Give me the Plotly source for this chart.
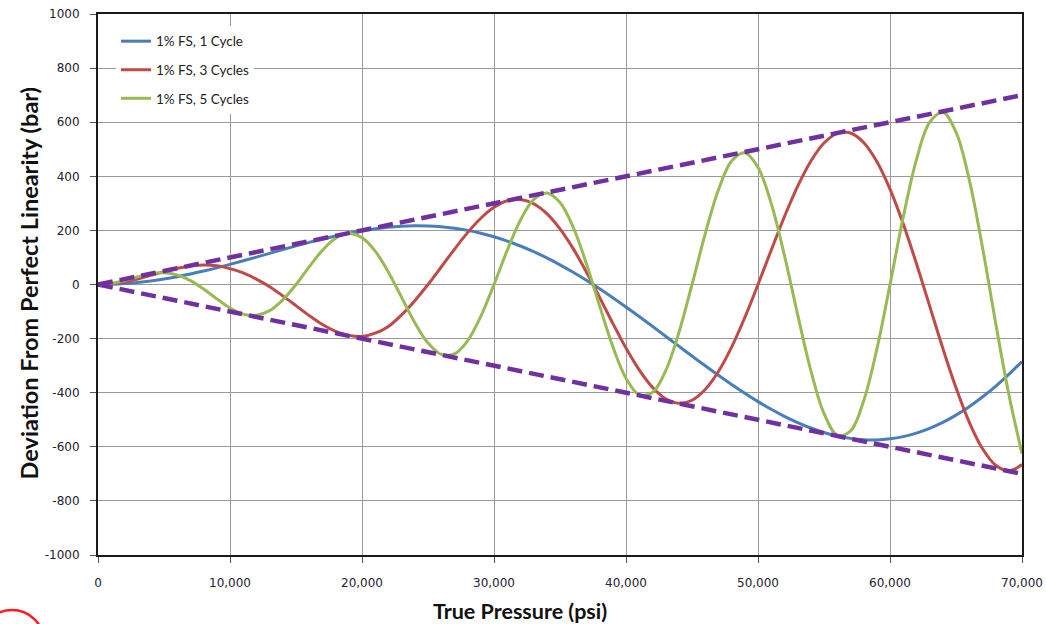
import plotly.graph_objects as go

# True pressure grid (psi)
pressure = list(range(0, 70001, 1000))

# Deviation values (bar)
dev_1cycle = [0, 0.8, 3.3, 7.5, 13.2, 20.3, 28.9, 38.7, 49.7, 61.6,
              74.3, 87.6, 101.3, 115.2, 129.1, 142.7, 155.8, 168.2, 179.6, 190.0,
              198.9, 206.3, 211.9, 215.6, 217.2, 216.5, 213.5, 208.0, 200.1, 189.5,
              176.3, 160.6, 142.3, 121.5, 98.3, 72.8, 45.1, 15.5, -15.9, -48.9,
              -83.2, -118.5, -154.6, -191.2, -227.9, -264.5, -300.6, -335.8, -369.8, -402.3,
              -433.0, -461.4, -487.4, -510.5, -530.4, -547.0, -559.9, -568.9, -573.8, -574.4,
              -570.6, -562.4, -549.4, -531.9, -509.8, -483.0, -451.8, -416.1, -376.3, -332.4,
              -284.7]

dev_3cycles = [0, 2.5, 9.6, 20.5, 33.8, 47.6, 59.9, 68.8, 72.4, 69.3,
               58.8, 43.0, 20.0, -8.0, -42.0, -78.0, -115.0, -148.0, -173.0, -188.0,
               -192.0, -180.0, -155.0, -112.0, -59.7, 0, 64.7, 130.1, 191.7, 244.8,
               285.3, 309.4, 314.3, 298.6, 262.0, 205.7, 132.5, 46.4, -47.6, -143.6,
               -235.1, -315.9, -380.0, -422.4, -439.1, -428.0, -388.4, -321.7, -231.3, -121.9,
               0, 126.8, 250.5, 362.8, 455.9, 523.1, 558.9, 559.9, 524.8, 454.6,
               352.7, 224.5, 77.7, -78.9, -235.6, -382.1, -508.5, -606.2, -668.0, -688.6,
               -665.8]

dev_5cycles = [0, 4.1, 14.9, 28.5, 39.8, 43.3, 35.3, 14.6, -16.6, -52.9,
               -86.6, -109.4, -114.1, -96.6, -56.9, 0, 65.1, 126.3, 171.2, 189.0,
               173.2, 123.4, 45.7, -47.8, -141.1, -216.5, -258.6, -256.8, -208.1, -117.9,
               0, 126.1, 237.8, 313.9, 338.1, 303.1, 211.6, 76.9, -79.0, -229.2,
               -346.4, -407.7, -399.5, -319.5, -178.9, 0, 187.1, 349.3, 456.5, 487.3,
               433.0, 299.8, 108.1, -110.2, -317.4, -476.3, -556.9, -542.1, -431.0, -240.0,
               0, 248.1, 460.7, 599.2, 636.5, 562.9, 387.9, 139.3, -141.4, -405.6,
               -625.0]

# 1% FS envelope
env_x = [0, 70000]
env_upper = [0, 700]
env_lower = [0, -700]

# Axis ticks
y_ticks = [-1000, -800, -600, -400, -200, 0, 200, 400, 600, 800, 1000]
y_labels = ["-1000", "-800", "-600", "-400", "-200", "0", "200", "400", "600", "800", "1000"]
x_ticks = [0, 10000, 20000, 30000, 40000, 50000, 60000, 70000]
x_labels = ["0", "10,000", "20,000", "30,000", "40,000", "50,000", "60,000", "70,000"]

series_names = ["1% FS, 1 Cycle", "1% FS, 3 Cycles", "1% FS, 5 Cycles"]
series_colors = ["#4A7EBB", "#BE4B48", "#98B954"]
env_color = "#7030A0"

fig = go.Figure()

for name, vals, col in zip(series_names, [dev_1cycle, dev_3cycles, dev_5cycles], series_colors):
    fig.add_trace(go.Scatter(
        x=pressure, y=vals, mode="lines", name=name, legendgroup=name,
        line=dict(color=col, width=3, shape="spline", smoothing=1.0),
    ))

for env in [env_upper, env_lower]:
    fig.add_trace(go.Scatter(
        x=env_x, y=env, mode="lines", showlegend=False,
        line=dict(color=env_color, width=4.5, dash="15px,7px"),
    ))

tick_font = dict(family="DejaVu Sans", size=12, color="#222233")

fig.update_layout(
    width=1046, height=624,
    margin=dict(l=98, r=24, t=14, b=69, autoexpand=False),
    paper_bgcolor="white", plot_bgcolor="white",
    showlegend=True,
    legend=dict(
        x=0.0195, y=0.978, xanchor="left", yanchor="top",
        bgcolor="white", borderwidth=0,
        font=dict(family="Lato", size=13.5, color="#222222"),
        tracegroupgap=8, traceorder="grouped",
    ),
    xaxis=dict(
        range=[0, 70000], tickvals=x_ticks, ticktext=x_labels, automargin=False,
        showgrid=True, gridcolor="#999999", gridwidth=1, zeroline=False,
        showline=True, linecolor="#1a1a1a", linewidth=2, mirror=True,
        ticks="outside", ticklen=6, tickcolor="#555555",
        tickfont=tick_font, ticklabelstandoff=10,
    ),
    yaxis=dict(
        range=[-1000, 1000], tickvals=y_ticks, ticktext=y_labels, automargin=False,
        showgrid=True, gridcolor="#999999", gridwidth=1, zeroline=False,
        showline=True, linecolor="#1a1a1a", linewidth=2, mirror=True,
        ticks="outside", ticklen=6, tickcolor="#555555",
        tickfont=tick_font, ticklabelstandoff=8,
    ),
    annotations=[
        dict(text="<b>True Pressure (psi)</b>", xref="paper", yref="paper",
             x=0.4567, y=-0.1035, xanchor="center", yanchor="middle", showarrow=False,
             font=dict(family="Lato", size=21.5, color="#111111")),
        dict(text="<b>Deviation From Perfect Linearity (bar)</b>", xref="paper", yref="paper",
             x=-0.0747, y=0.502, xanchor="center", yanchor="middle", showarrow=False, textangle=-90,
             font=dict(family="Lato", size=23.5, color="#111111")),
    ],
    shapes=[
        dict(type="circle", xref="paper", yref="paper",
             x0=(12 - 32 - 98) / 924, x1=(12 + 32 - 98) / 924,
             y0=(555 - 642 - 32) / 541, y1=(555 - 642 + 32) / 541,
             line=dict(color="#FF1A1A", width=2.5)),
    ],
)

fig.write_html(
    "out.html",
    config={"displayModeBar": False},
    post_script="document.body.style.margin='0';document.body.style.overflow='hidden';",
)
